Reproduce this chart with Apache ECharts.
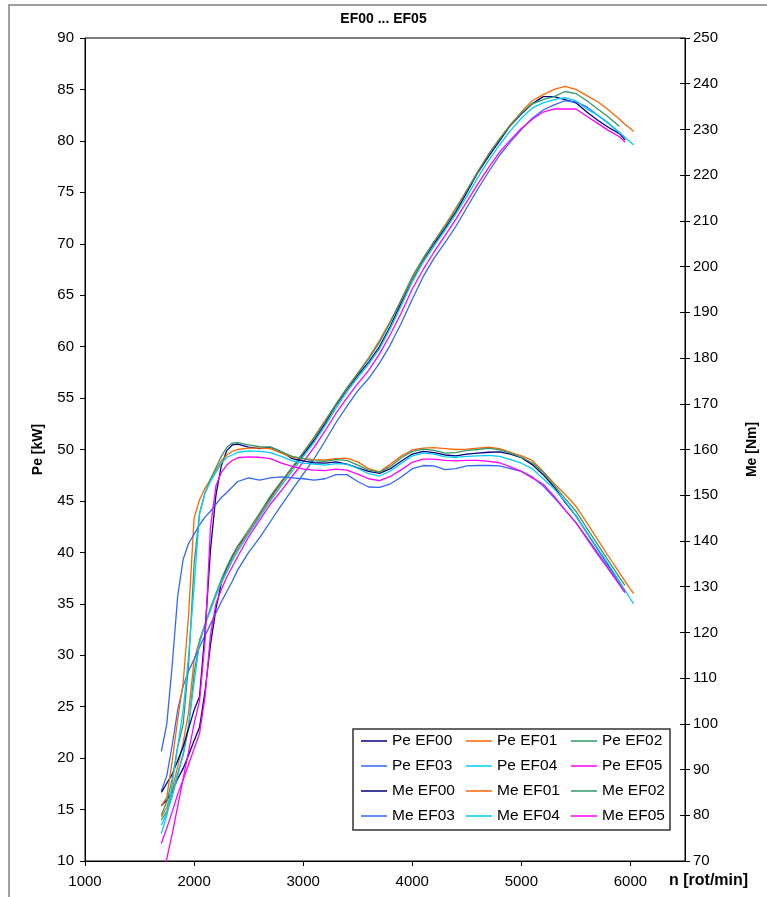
<!DOCTYPE html>
<html>
<head>
<meta charset="utf-8">
<script src="https://cdn.jsdelivr.net/npm/echarts@6/dist/echarts.min.js"></script>
<style>
html,body{margin:0;padding:0;background:#fff;}
#chart{width:767px;height:897px;}
</style>
</head>
<body>
<div id="chart"></div>
<script>
// shared engine speed grid [rot/min]
const rpm = [1700,1750,1800,1850,1900,1950,2000,2050,2100,2150,2200,2250,2300,2350,2400,
  2500,2600,2700,2800,2900,3000,3100,3200,3300,3400,3500,3600,3700,3800,3900,
  4000,4100,4200,4300,4400,4500,4600,4700,4800,4900,5000,5100,5200,5300,5400,5500,5600,5700,5800,5900,
  5950,6000,6030];

// power Pe [kW]
const peEF00 = [15.4,15.9,16.8,18.0,19.0,20.3,21.7,23.0,26.5,31.0,34.5,37.0,38.5,39.6,40.6,
  41.9,43.6,45.3,46.8,48.2,49.5,50.9,52.5,54.3,55.8,57.2,58.5,60.0,62.0,64.3,
  66.5,68.4,70.0,71.5,73.1,75.0,76.9,78.5,80.0,81.5,82.6,83.6,84.3,84.3,84.0,83.7,82.8,82.0,81.3,80.7,
  80.1,null,null];
const peEF01 = [14.3,15.2,17.0,19.2,21.5,24.5,29.5,31.5,33.0,34.4,35.8,37.0,38.2,39.3,40.3,
  42.0,43.6,45.2,46.7,48.2,49.7,51.2,52.8,54.4,55.9,57.4,58.9,60.6,62.5,64.5,
  66.6,68.5,70.2,71.8,73.5,75.2,77.0,78.7,80.2,81.6,82.8,83.9,84.5,85.0,85.3,85.0,84.4,83.8,83.0,82.1,
  81.6,81.2,80.9];
const peEF02 = [14.0,14.8,16.5,18.5,20.3,23.0,28.3,31.2,33.0,34.6,36.0,37.4,38.6,39.7,40.6,
  42.2,43.8,45.5,46.9,48.3,49.7,51.1,52.7,54.4,56.0,57.4,58.8,60.4,62.4,64.6,
  66.8,68.6,70.2,71.7,73.3,75.2,77.0,78.7,80.2,81.5,82.7,83.6,84.0,84.3,84.8,84.6,83.9,83.1,82.3,81.4,
  null,null,null];
const peEF03 = [16.8,18.3,21.3,24.7,27.0,28.5,29.6,30.8,31.9,33.0,34.1,35.2,36.2,37.2,38.3,
  40.0,41.4,43.0,44.6,46.1,47.6,49.1,50.8,52.6,54.2,55.7,56.9,58.4,60.2,62.3,
  64.6,66.8,68.6,70.1,71.7,73.5,75.3,77.0,78.6,79.9,81.1,82.2,83.0,83.5,83.9,83.8,83.3,82.5,81.7,80.8,
  80.3,null,null];
const peEF04 = [13.5,14.6,16.3,18.3,20.5,23.3,27.3,31.2,33.0,34.4,35.8,37.1,38.1,39.2,40.1,
  41.8,43.4,45.0,46.5,47.9,49.3,50.7,52.3,54.0,55.6,57.0,58.3,59.8,61.8,64.0,
  66.3,68.2,69.8,71.3,72.9,74.6,76.4,78.1,79.6,81.0,82.2,83.2,83.7,84.0,84.2,83.9,83.1,82.5,81.7,80.8,
  80.3,79.9,79.6];
const peEF05 = [11.7,13.2,14.8,16.5,17.9,19.4,20.9,22.4,25.9,32.0,35.0,36.4,37.6,38.6,39.6,
  41.5,43.1,44.7,46.0,47.4,48.8,50.2,51.8,53.5,55.0,56.4,57.7,59.3,61.2,63.3,
  65.6,67.5,69.2,70.8,72.4,74.1,75.8,77.4,78.9,80.1,81.2,82.1,82.8,83.1,83.1,83.1,82.4,81.7,81.0,80.4,
  79.9,null,null];

// torque Me [Nm]
const meEF00 = [85,87,89,92,95,99,103,106,120,138,150,156.5,159.8,161,161.2,
  160.5,160.2,160.5,159.5,158.0,157.5,157.1,157.0,157.3,156.8,156.0,155.2,154.8,155.8,157.5,
  159.0,159.6,159.3,158.8,158.6,159.0,159.2,159.4,159.5,159.0,158.2,156.7,154.5,151.8,148.5,145.5,141.8,138.2,134.6,131.0,
  129.0,null,null];
const meEF01 = [82,84,92,101,109,124,145,149,151.5,153.5,155.5,157.5,158.8,159.6,160.0,
  160.3,160.3,160.2,159.2,158.3,158.0,157.8,157.7,158.0,158.1,157.3,155.8,155.1,156.8,158.6,
  159.9,160.3,160.4,160.2,160.0,160.1,160.3,160.5,160.2,159.4,158.6,157.6,155.2,152.6,150.2,147.6,144.0,140.3,136.6,133.0,
  131.2,129.4,128.5];
const meEF02 = [80,83,88,95,100,113,135,146,150.5,153.5,156,158.5,160.5,161.4,161.5,
  161.0,160.6,160.5,159.5,158.5,158.0,157.5,157.4,157.8,157.6,156.6,155.5,155.0,156.3,158.2,
  159.6,160.1,159.8,159.2,159.3,159.8,160.0,160.3,159.9,159.2,158.3,157.1,155.0,152.2,149.3,146.5,142.8,139.2,135.6,132.0,
  130.3,null,null];
const meEF03 = [94,100,113,128,136,139.5,141.5,143.5,145.2,146.5,148,149.5,150.6,151.8,153,
  153.8,153.3,153.8,154.0,153.8,153.6,153.3,153.6,154.5,154.5,153.0,151.8,151.7,152.5,154.0,
  155.8,156.5,156.4,155.6,155.8,156.4,156.5,156.5,156.4,155.8,155.2,154.0,152.0,149.5,146.8,144.0,140.8,137.4,134.0,130.6,
  128.8,null,null];
const meEF04 = [76,80,87,95,103,115,130,146,150.5,153,155,157,158.3,158.8,159.4,
  159.7,159.6,159.3,158.5,157.5,157.0,156.8,156.6,156.9,156.8,155.9,154.7,154.2,155.3,157.0,
  158.6,159.2,159.0,158.4,158.3,158.5,158.6,158.7,158.5,157.8,157.0,155.8,153.6,151.4,148.7,145.5,141.8,138.3,134.8,131.0,
  129.2,127.3,126.3];
const meEF05 = [66,70.5,76,82,88,94,100,105,118,143,152,155,156.6,157.6,158.2,
  158.4,158.3,158.0,157.0,156.3,155.7,155.5,155.4,155.7,155.5,154.6,153.6,153.2,154.1,155.6,
  157.2,157.9,157.9,157.6,157.5,157.6,157.6,157.4,157.1,156.2,155.2,153.8,152.4,149.8,146.8,144.0,140.5,137.0,133.8,130.4,
  128.7,null,null];

const names = ['Pe EF00','Pe EF01','Pe EF02','Pe EF03','Pe EF04','Pe EF05',
               'Me EF00','Me EF01','Me EF02','Me EF03','Me EF04','Me EF05'];
const values = [peEF00,peEF01,peEF02,peEF03,peEF04,peEF05,meEF00,meEF01,meEF02,meEF03,meEF04,meEF05];
const colors = ['#000080','#FF6600','#339966','#3366FF','#00CCFF','#FF00FF'];

const FONT = 'Liberation Sans, Arial, sans-serif';

const series = names.map((n, i) => ({
  name: n,
  type: 'line',
  yAxisIndex: i < 6 ? 0 : 1,
  data: rpm.map((x, k) => [x, values[i][k]]),
  symbol: 'none',
  clip: true,
  connectNulls: false,
  lineStyle: { width: 1.3, color: colors[i % 6] },
  itemStyle: { color: colors[i % 6] },
  animation: false
}));

function legendCol(left, items) {
  return {
    orient: 'vertical',
    left: left,
    top: 733,
    itemWidth: 26,
    itemHeight: 14,
    itemGap: 9,
    padding: 0,
    z: 10,
    icon: 'path://M0,0 L26,0 L26,1.5 L0,1.5 Z',
    textStyle: { fontFamily: FONT, fontSize: 15.5, color: '#000', lineHeight: 16 },
    data: items
  };
}

const chart = echarts.init(document.getElementById('chart'), null, { renderer: 'canvas' });
chart.setOption({
  backgroundColor: '#fff',
  animation: false,
  title: {
    text: 'EF00 ... EF05',
    left: 'center',
    top: 7,
    textStyle: { fontFamily: FONT, fontSize: 14, fontWeight: 'bold', color: '#000' }
  },
  grid: {
    left: 85, right: 74, top: 38, bottom: 36,
    show: true, borderColor: '#000', borderWidth: 1, backgroundColor: 'transparent'
  },
  legend: [
    legendCol(361, ['Pe EF00','Pe EF03','Me EF00','Me EF03']),
    legendCol(466, ['Pe EF01','Pe EF04','Me EF01','Me EF04']),
    legendCol(571, ['Pe EF02','Pe EF05','Me EF02','Me EF05'])
  ],
  xAxis: {
    type: 'value',
    min: 1000, max: 6500, interval: 1000,
    name: 'n [rot/min]',
    nameLocation: 'end',
    nameGap: -16,
    nameTextStyle: { fontFamily: FONT, fontSize: 16, fontWeight: 'bold', color: '#000',
                     align: 'left', verticalAlign: 'top', padding: [12,0,0,0] },
    axisLine: { lineStyle: { color: '#000', width: 1 } },
    axisTick: { show: true, length: 5, inside: false, lineStyle: { color: '#000' } },
    axisLabel: { fontFamily: FONT, fontSize: 15, color: '#000', margin: 13,
                 showMaxLabel: false,
                 formatter: v => (v % 1000 === 0 ? String(v) : '') },
    splitLine: { show: false }
  },
  yAxis: [
    {
      type: 'value', position: 'left',
      min: 10, max: 90, interval: 5,
      name: 'Pe [kW]', nameLocation: 'middle', nameGap: 40, nameRotate: 90,
      nameTextStyle: { fontFamily: FONT, fontSize: 14, fontWeight: 'bold', color: '#000' },
      axisLine: { show: true, lineStyle: { color: '#000', width: 1 } },
      axisTick: { show: true, length: 5, inside: false, lineStyle: { color: '#000' } },
      axisLabel: { fontFamily: FONT, fontSize: 15, color: '#000', margin: 11 },
      splitLine: { show: false }
    },
    {
      type: 'value', position: 'right',
      min: 70, max: 250, interval: 10,
      name: 'Me [Nm]', nameLocation: 'middle', nameGap: 60, nameRotate: 90,
      nameTextStyle: { fontFamily: FONT, fontSize: 14, fontWeight: 'bold', color: '#000' },
      axisLine: { show: true, lineStyle: { color: '#000', width: 1 } },
      axisTick: { show: true, length: 5, inside: false, lineStyle: { color: '#000' } },
      axisLabel: { fontFamily: FONT, fontSize: 15, color: '#000', margin: 8 },
      splitLine: { show: false }
    },
    {
      type: 'value', position: 'right',
      min: 70, max: 250, interval: 10,
      axisLine: { show: false },
      axisTick: { show: true, length: 5, inside: true, lineStyle: { color: '#000' } },
      axisLabel: { show: false },
      splitLine: { show: false }
    }
  ],
  graphic: [
    { type: 'rect', silent: true, z: -10,
      shape: { x: 9, y: 5, width: 820, height: 920 },
      style: { fill: 'none', stroke: '#808080', lineWidth: 1.5 } },
    { type: 'rect', silent: true, z: 3,
      shape: { x: 353, y: 729, width: 317, height: 101 },
      style: { fill: '#fff', stroke: '#333', lineWidth: 1.5 } }
  ],
  series: series
});
</script>
</body>
</html>
